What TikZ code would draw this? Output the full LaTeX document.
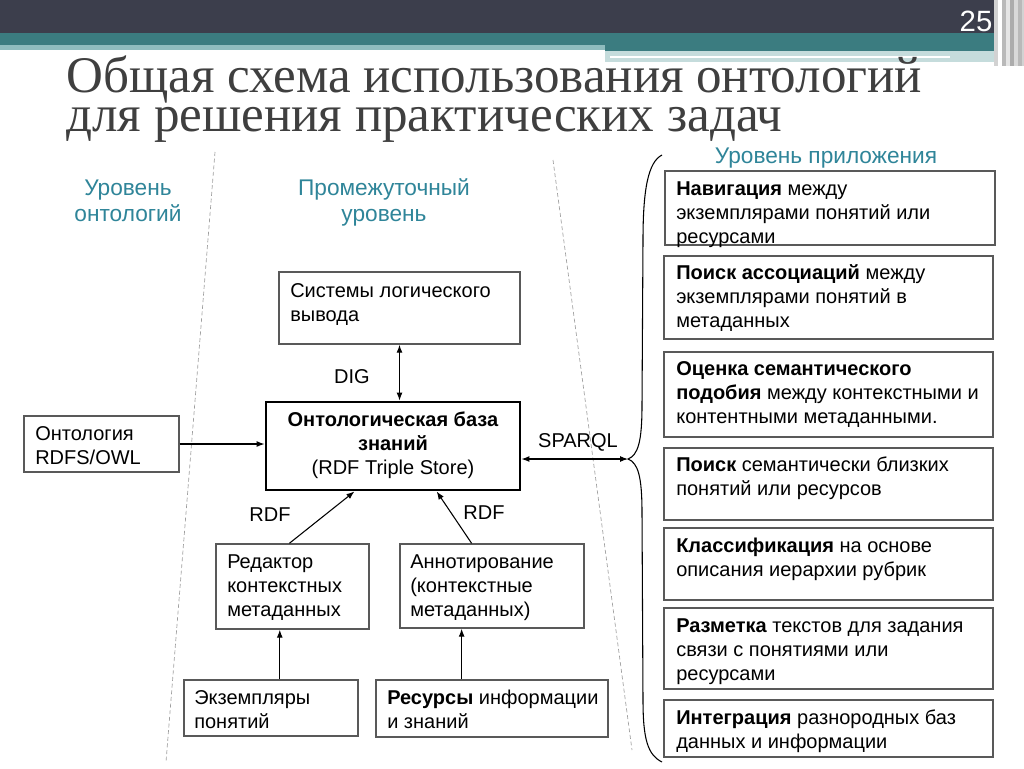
\documentclass[tikz,border=0pt]{standalone}
\usepackage{fontspec}
\setmainfont{Liberation Sans}
\newfontfamily\titlefont{Liberation Serif}
\usepackage{graphicx}
\usetikzlibrary{arrows.meta,fit,calc}
\definecolor{hdark}{HTML}{3C3E4C}
\definecolor{hteal}{HTML}{3B7C80}
\definecolor{hlight}{HTML}{8FBCBE}
\definecolor{hpale}{HTML}{C5DCDC}
\definecolor{titlegray}{HTML}{3F3F3F}
\definecolor{levelteal}{HTML}{2F8599}
\definecolor{boxgray}{HTML}{595959}
\newcommand{\mylines}[1]{\begin{tabular}[t]{@{}l@{}}#1\end{tabular}}
\newcommand{\mycenter}[1]{\begin{tabular}[t]{@{}c@{}}#1\end{tabular}}
\begin{document}
\begin{tikzpicture}[x=0.75pt,y=-0.75pt,
  box/.style={draw=boxgray, line width=1.1pt, inner sep=0pt},
  kbbox/.style={draw=black, line width=2.2pt, inner sep=0pt},
  txt/.style={inner sep=0pt, font=\fontsize{15}{18}\selectfont, anchor=base west},
  lvl/.style={inner sep=0pt, font=\fontsize{17}{20}\selectfont, text=levelteal, anchor=base},
  lbl/.style={inner sep=0pt, font=\fontsize{15}{18}\selectfont, anchor=base},
  title/.style={inner sep=0pt, font=\titlefont\fontsize{38.5}{38.5}\selectfont, text=titlegray, anchor=base west},
  arr/.style={-{Latex[length=6pt,width=4.5pt]}, line width=0.8pt},
  darr/.style={{Latex[length=6pt,width=4.5pt]}-{Latex[length=6pt,width=4.5pt]}, line width=0.8pt},
  sep/.style={draw=gray!75, line width=0.5pt, dash pattern=on 3pt off 2pt}
]
\useasboundingbox (0,0) rectangle (1024,768);
\fill[white] (0,0) rectangle (1024,768);
% header
\fill[hdark] (0,0) rectangle (1024,33);
\fill[hteal] (0,33) rectangle (1024,45);
\fill[hlight] (0,45) rectangle (605,50);
\fill[hteal] (605,45) rectangle (1024,51);
\fill[hpale] (605,51) rectangle (1000,62);
\draw[white, line width=1.2pt] (610,57) -- (950,57);
\foreach \xx/\cc in {994/gray!35, 998/white, 1002/gray!55, 1006/gray!20, 1010/gray!65, 1014/gray!30, 1018/gray!55, 1022/gray!35}
  \fill[\cc] (\xx,0) rectangle ++(4,66);
\node[font=\fontsize{22}{22}\selectfont, text=white, inner sep=0pt, anchor=base] (pg) at (976,31) {25};
% title (two lines in one node)
\node[title] (title) at (66,92) {\parbox[t]{645pt}{\baselineskip=29.25pt\lineskiplimit=-100pt\lineskip=0pt
  \resizebox{642pt}{\height}{Общая схема использования онтологий}\\
  \resizebox{537pt}{\height}{для решения практических задач}}};
% separators
\draw[sep] (215,152) -- (166,762);
\draw[sep] (553,160) -- (632,750);
% level labels
\node[lvl] (lv1) at (128,195) {\mycenter{Уровень\\онтологий}};
\node[lvl] (lv2) at (384,195) {\mycenter{Промежуточный\\уровень}};
\node[lvl] (lv3) at (826,163) {Уровень приложения};
% middle boxes
\node[box, fit={(279,272) (520,344)}] (sys) {};
\node[txt] (sys-t) at (290,297) {\mylines{Системы логического\\вывода}};
\node[kbbox, fit={(266,402) (520,490)}] (kb) {};
\node[txt, anchor=base] (kb-t) at (393,426) {\mycenter{\textbf{Онтологическая база}\\\textbf{знаний}\\(RDF Triple Store)}};
\node[box, fit={(24,416) (179,472)}] (ont) {};
\node[txt] (ont-t) at (35,440) {\mylines{Онтология\\RDFS/OWL}};
\node[box, fit={(216,544) (369,629)}] (red) {};
\node[txt] (red-t) at (227,568) {\mylines{Редактор\\контекстных\\метаданных}};
\node[box, fit={(400,544) (584,628)}] (ann) {};
\node[txt] (ann-t) at (410,568) {\mylines{Аннотирование\\(контекстные\\метаданных)}};
\node[box, fit={(184,680) (358,736)}] (ekz) {};
\node[txt] (ekz-t) at (194,704) {\mylines{Экземпляры\\понятий}};
\node[box, fit={(376,680) (608,737)}] (res) {};
\node[txt] (res-t) at (387,704) {\mylines{\textbf{Ресурсы} информации\\и знаний}};
% right boxes
\node[box, fit={(665,171) (995,245)}] (r1) {};
\node[txt] (r1-t) at (676,195) {\mylines{\textbf{Навигация} между\\экземплярами понятий или\\ресурсами}};
\node[box, fit={(664,256) (993,339)}] (r2) {};
\node[txt] (r2-t) at (676,279) {\mylines{\textbf{Поиск ассоциаций} между\\экземплярами понятий в\\метаданных}};
\node[box, fit={(664,352) (993,437)}] (r3) {};
\node[txt] (r3-t) at (676,375) {\mylines{\textbf{Оценка семантического}\\\textbf{подобия} между контекстными и\\контентными метаданными.}};
\node[box, fit={(664,448) (993,520)}] (r4) {};
\node[txt] (r4-t) at (676,471) {\mylines{\textbf{Поиск} семантически близких\\понятий или ресурсов}};
\node[box, fit={(664,528) (993,600)}] (r5) {};
\node[txt] (r5-t) at (676,552) {\mylines{\textbf{Классификация} на основе\\описания иерархии рубрик}};
\node[box, fit={(664,608) (993,689)}] (r6) {};
\node[txt] (r6-t) at (676,632) {\mylines{\textbf{Разметка} текстов для задания\\связи с понятиями или\\ресурсами}};
\node[box, fit={(664,700) (993,757)}] (r7) {};
\node[txt] (r7-t) at (676,724) {\mylines{\textbf{Интеграция} разнородных баз\\данных и информации}};
% brace
\coordinate (tip) at (628,459);
\draw[line width=0.8pt] (662,155) .. controls (648,162) and (643,190) .. (643,240) -- (642,405)
  .. controls (642,442) and (638,455) .. (tip)
  .. controls (638,463) and (642,476) .. (642,513) -- (643,700)
  .. controls (643,740) and (648,755) .. (662,762);
% connectors
\draw[darr] (sys.south) -- (sys.south |- kb.north);
\node[lbl] (dig) at (352,383) {DIG};
\draw[arr] (ont.east) -- (ont.east -| kb.west);
\draw[darr] (kb.east |- tip) -- (tip);
\node[lbl] (sparql) at (578,447) {SPARQL};
\draw[arr] ($(red.north west)!0.48!(red.north east)$) -- ($(kb.south west)!0.35!(kb.south east)$);
\node[lbl] (rdf1) at (270,521) {RDF};
\draw[arr] ($(ann.north west)!0.39!(ann.north east)$) -- ($(kb.south west)!0.67!(kb.south east)$);
\node[lbl] (rdf2) at (484,519) {RDF};
\draw[arr] ($(ekz.north west)!0.55!(ekz.north east)$) coordinate (e1) -- (e1 |- red.south);
\draw[arr] ($(res.north west)!0.37!(res.north east)$) coordinate (e2) -- (e2 |- ann.south);
\end{tikzpicture}
\end{document}
